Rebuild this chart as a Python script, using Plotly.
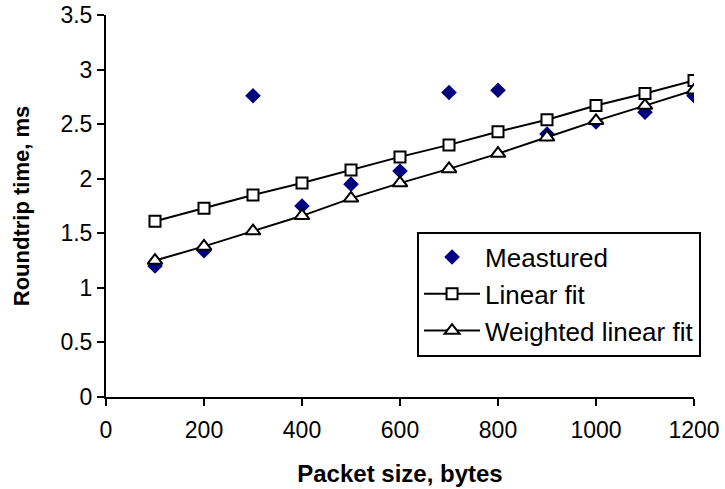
import plotly.graph_objects as go

packet_size = [100, 200, 300, 400, 500, 600, 700, 800, 900, 1000, 1100, 1200]
measured = [1.20, 1.34, 2.76, 1.75, 1.95, 2.07, 2.79, 2.81, 2.41, 2.52, 2.61, 2.76]
linear_fit = [1.61, 1.73, 1.85, 1.96, 2.08, 2.20, 2.31, 2.43, 2.54, 2.67, 2.78, 2.90]
weighted_fit = [1.25, 1.38, 1.52, 1.66, 1.82, 1.96, 2.09, 2.23, 2.38, 2.53, 2.67, 2.81]
x_ticks = [0, 200, 400, 600, 800, 1000, 1200]
y_ticks = [0, 0.5, 1, 1.5, 2, 2.5, 3, 3.5]

font_family = "Liberation Sans"

fig = go.Figure()
fig.add_trace(go.Scatter(
    x=packet_size, y=measured, name="Meastured",
    mode="markers",
    marker=dict(symbol="diamond", size=12, color="#000080", line=dict(width=0)),
))
fig.add_trace(go.Scatter(
    x=packet_size, y=linear_fit, name="Linear fit",
    mode="lines+markers",
    line=dict(color="black", width=2),
    marker=dict(symbol="square", size=11, color="white", line=dict(width=2, color="black")),
))
fig.add_trace(go.Scatter(
    x=packet_size, y=weighted_fit, name="Weighted linear fit",
    mode="lines+markers",
    line=dict(color="black", width=2),
    marker=dict(symbol="triangle-up", size=13, color="white", line=dict(width=2, color="black")),
))

fig.update_layout(
    width=725, height=489,
    margin=dict(l=106, r=31, t=15, b=92, autoexpand=False),
    paper_bgcolor="white", plot_bgcolor="white",
    font=dict(family=font_family, size=24, color="black"),
    showlegend=True,
    legend=dict(
        x=0.529, y=0.433, xanchor="left", yanchor="top",
        bgcolor="white", bordercolor="black", borderwidth=2,
        font=dict(size=26), itemwidth=56, entrywidth=205,
    ),
)
fig.update_xaxes(
    range=[0, 1200], tickvals=x_ticks, automargin=False,
    ticklabeloverflow="allow", ticklabelstandoff=4,
    tickfont=dict(size=23),
    showgrid=False, zeroline=False, showline=True, linecolor="black", linewidth=2,
    ticks="outside", ticklen=7, tickwidth=2, tickcolor="black",
    title=dict(text="<b>Packet size, bytes</b>", font=dict(size=24), standoff=24),
)
fig.update_yaxes(
    range=[0, 3.5], tickvals=y_ticks, automargin=False,
    ticklabeloverflow="allow",
    tickfont=dict(size=23),
    showgrid=False, zeroline=False, showline=True, linecolor="black", linewidth=2,
    ticks="outside", ticklen=7, tickwidth=2, tickcolor="black",
    title=dict(text="<b>Roundtrip time, ms</b>", font=dict(size=22), standoff=25),
)

fig.write_html("out.html", config={"displayModeBar": False},
               post_script="document.body.style.margin='0px';")
